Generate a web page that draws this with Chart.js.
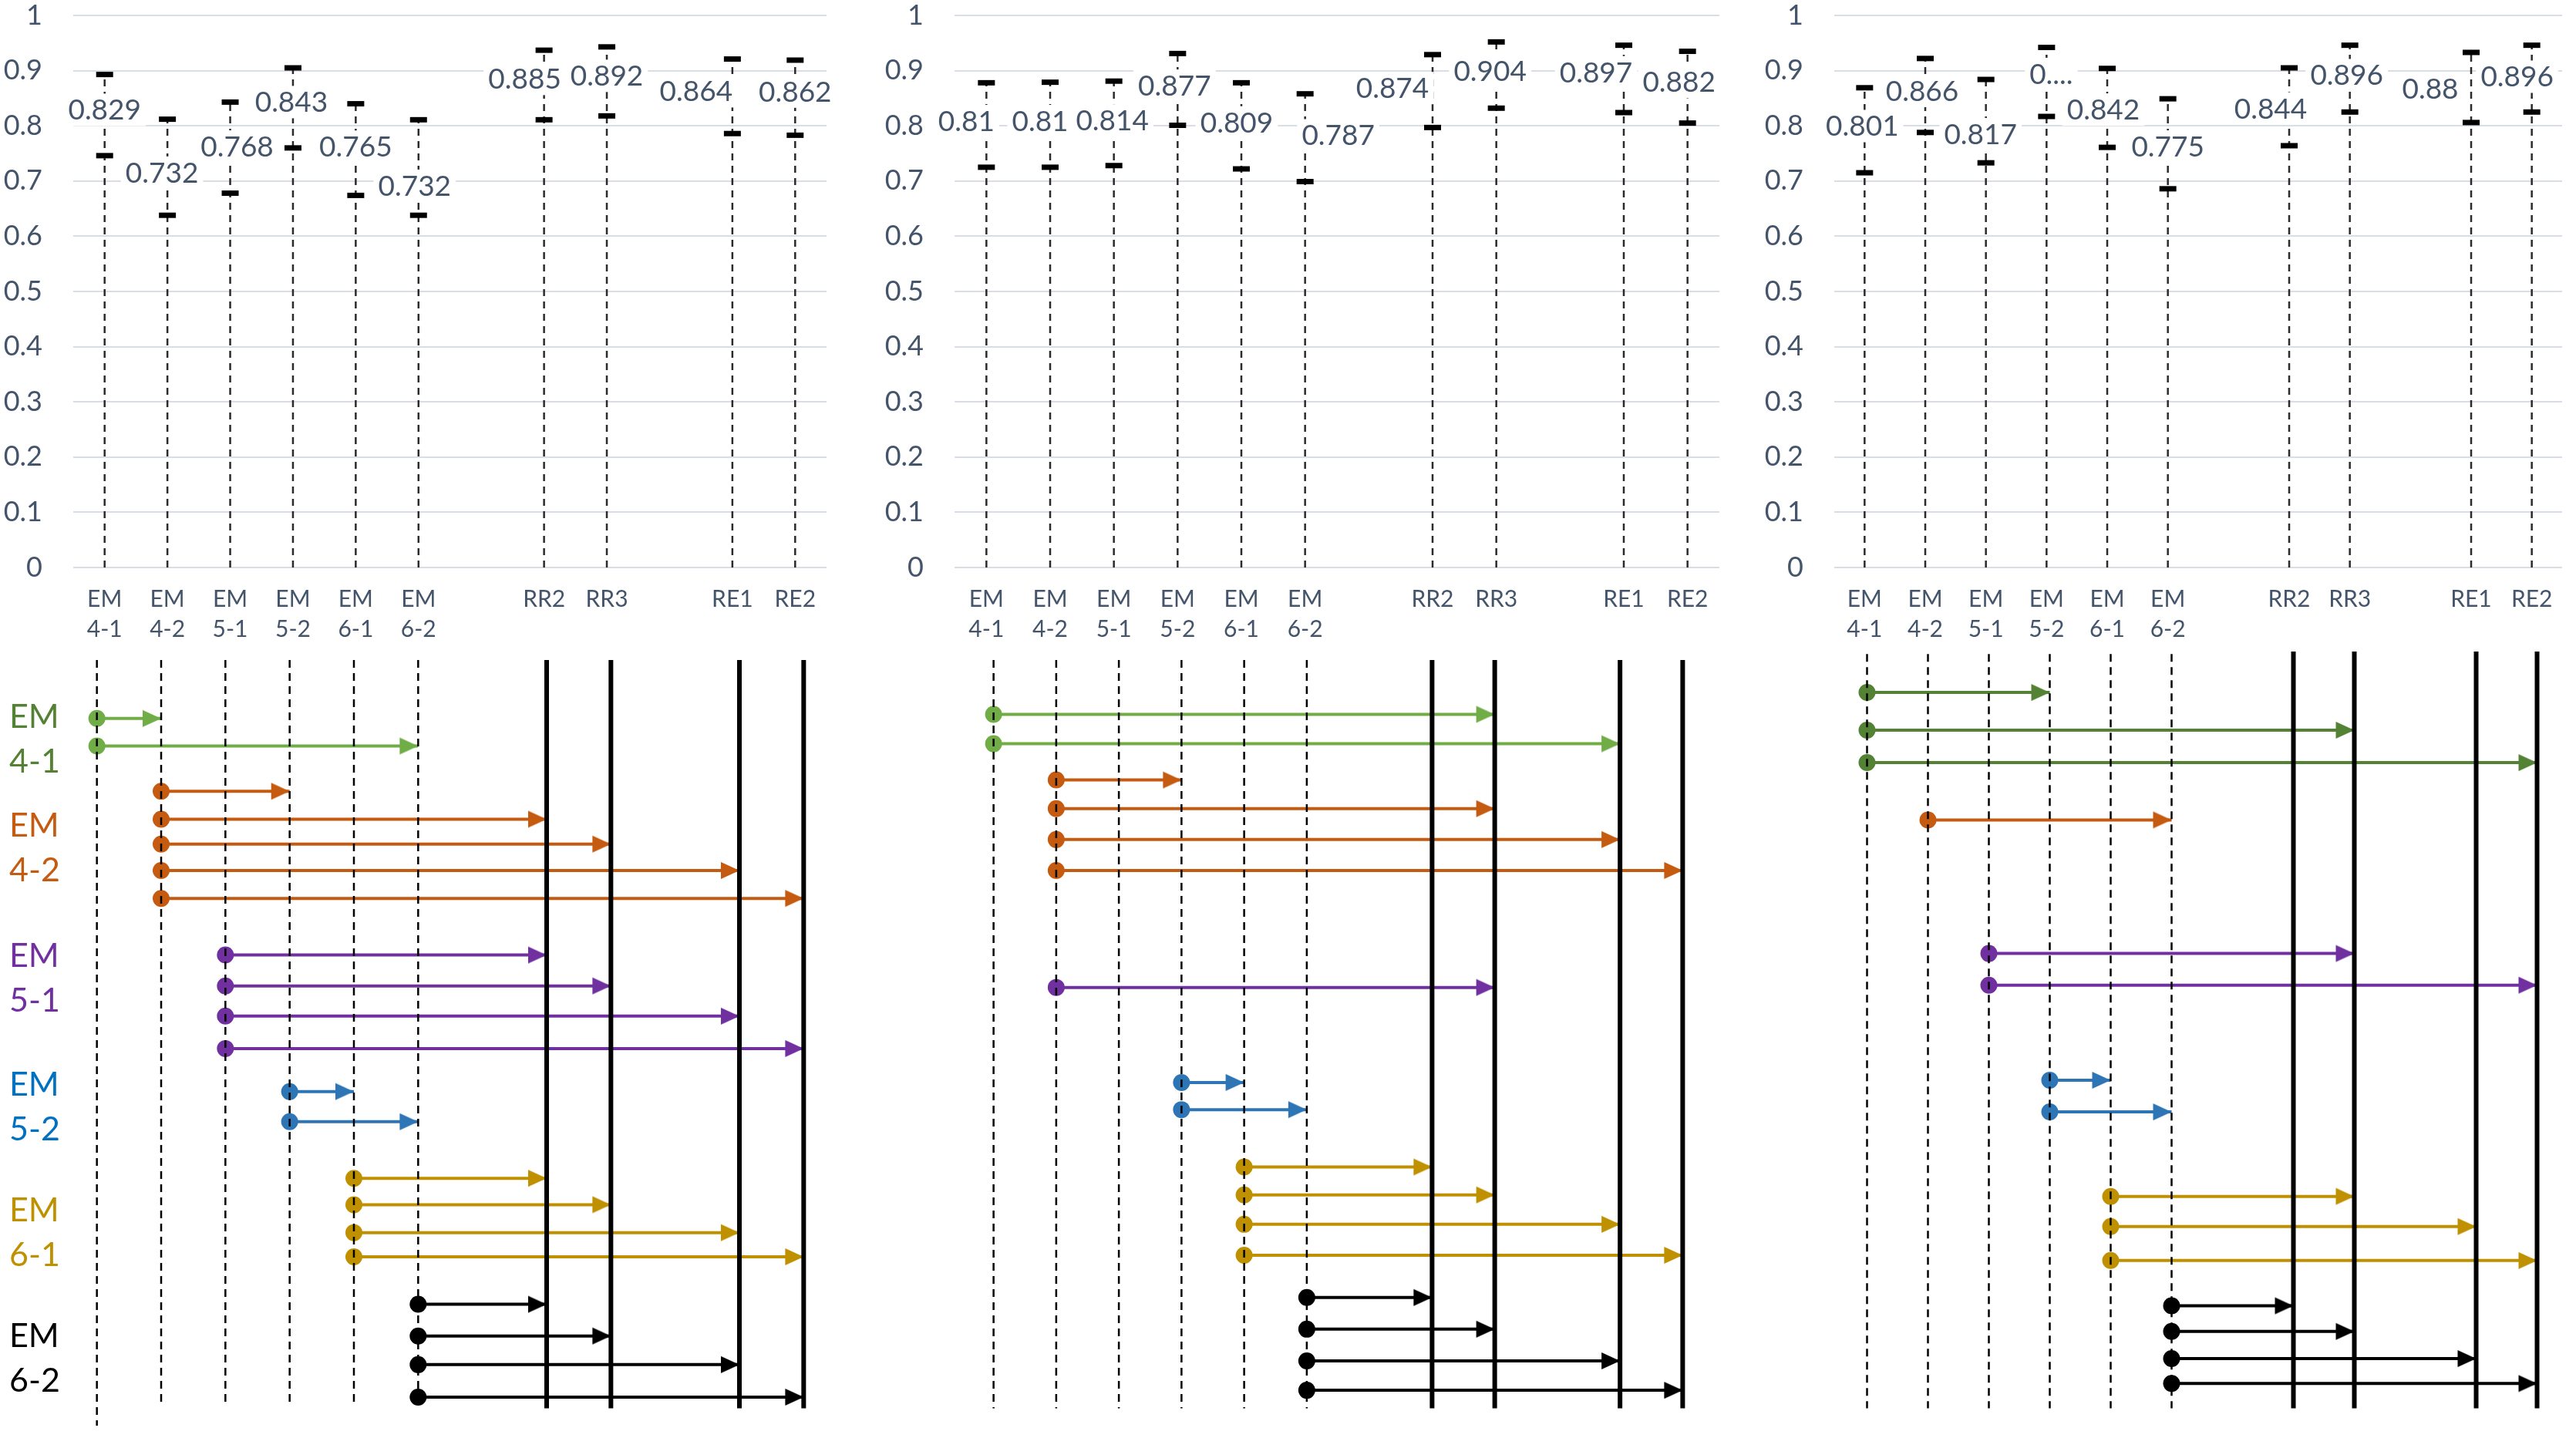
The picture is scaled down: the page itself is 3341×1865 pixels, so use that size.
<!DOCTYPE html>
<html><head><meta charset="utf-8">
<script src="https://cdn.jsdelivr.net/npm/chart.js@4.4.1/dist/chart.umd.min.js"></script>
<style>
html,body{margin:0;padding:0;background:#fff;}
body{width:3341px;height:1865px;overflow:hidden;position:relative;}
canvas{position:absolute;}
</style></head><body>
<canvas id="t1"></canvas><canvas id="t2"></canvas><canvas id="t3"></canvas>
<canvas id="b1"></canvas><canvas id="b2"></canvas><canvas id="b3"></canvas>
<script>
// ---------------- DATA ----------------
const categories = ['EM 4-1','EM 4-2','EM 5-1','EM 5-2','EM 6-1','EM 6-2','','RR2','RR3','','RE1','RE2'];
const yTickLabels = ['0','0.1','0.2','0.3','0.4','0.5','0.6','0.7','0.8','0.9','1'];

const p1Upper = [0.893,0.812,0.843,0.905,0.840,0.811,null,0.937,0.943,null,0.921,0.919];
const p1Lower = [0.746,0.638,0.678,0.760,0.674,0.638,null,0.811,0.818,null,0.786,0.783];
const p1Mean  = [0.829,0.732,0.768,0.843,0.765,0.732,null,0.885,0.892,null,0.864,0.862];
const p1MeanLabels = ['0.829','0.732','0.768','0.843','0.765','0.732','','0.885','0.892','','0.864','0.862'];

const p2Upper = [0.878,0.879,0.881,0.931,0.878,0.858,null,0.929,0.952,null,0.946,0.935];
const p2Lower = [0.725,0.725,0.728,0.801,0.722,0.699,null,0.797,0.832,null,0.824,0.805];
const p2Mean  = [0.81,0.81,0.814,0.877,0.809,0.787,null,0.874,0.904,null,0.897,0.882];
const p2MeanLabels = ['0.81','0.81','0.814','0.877','0.809','0.787','','0.874','0.904','','0.897','0.882'];

const p3Upper = [0.869,0.922,0.884,0.942,0.904,0.849,null,0.905,0.946,null,0.933,0.946];
const p3Lower = [0.715,0.788,0.733,0.817,0.761,0.686,null,0.764,0.825,null,0.806,0.825];
const p3Mean  = [0.801,0.866,0.817,0.88,0.842,0.775,null,0.844,0.896,null,0.88,0.896];
const p3MeanLabels = ['0.801','0.866','0.817','0....','0.842','0.775','','0.844','0.896','','0.88','0.896'];

// arrows: [from category, to category, row (0 = top of lower diagram), group]
const p1Arrows = [
 [0,1,7.75,'4-1'],[0,5,11.4,'4-1'],
 [1,3,17.4,'4-2'],[1,7,21.1,'4-2'],[1,8,24.4,'4-2'],[1,10,27.9,'4-2'],[1,11,31.6,'4-2'],
 [2,7,39.1,'5-1'],[2,8,43.2,'5-1'],[2,10,47.2,'5-1'],[2,11,51.5,'5-1'],
 [3,4,57.2,'5-2'],[3,5,61.2,'5-2'],
 [4,7,68.7,'6-1'],[4,8,72.2,'6-1'],[4,10,75.9,'6-1'],[4,11,79.1,'6-1'],
 [5,7,85.4,'6-2'],[5,8,89.6,'6-2'],[5,10,93.4,'6-2'],[5,11,97.7,'6-2']
];
const p2Arrows = [
 [0,8,7.2,'4-1'],[0,10,11.1,'4-1'],
 [1,3,15.9,'4-2'],[1,8,19.7,'4-2'],[1,10,23.8,'4-2'],[1,11,27.9,'4-2'],
 [1,8,43.4,'5-1'],
 [3,4,56,'5-2'],[3,5,59.6,'5-2'],
 [4,7,67.2,'6-1'],[4,8,70.9,'6-1'],[4,10,74.8,'6-1'],[4,11,78.9,'6-1'],
 [5,7,84.5,'6-2'],[5,8,88.7,'6-2'],[5,10,92.9,'6-2'],[5,11,96.8,'6-2']
];
const p3Arrows = [
 [0,3,4.3,'4-1'],[0,8,9.3,'4-1'],[0,11,13.6,'4-1'],
 [1,5,21.2,'4-2'],
 [2,8,38.9,'5-1'],[2,11,43.1,'5-1'],
 [3,4,55.7,'5-2'],[3,5,59.9,'5-2'],
 [4,8,71.1,'6-1'],[4,10,75.1,'6-1'],[4,11,79.6,'6-1'],
 [5,7,85.6,'6-2'],[5,8,89,'6-2'],[5,10,92.6,'6-2'],[5,11,95.9,'6-2']
];
const dashedLineCats = [0,1,2,3,4,5];
const solidLineCats = [7,8,10,11];
const p1LineStart = [0,0,0,0,0,0,null,0,0,null,0,0];
const p1LineEnd = [101.5,98.9,98.9,98.9,98.9,98.9,null,99.2,99.2,null,99.2,99.2];
const p2LineStart = [0,0,0,0,0,0,null,0,0,null,0,0];
const p2LineEnd = [99.2,99.2,99.2,99.2,99.2,99.2,null,99.2,99.2,null,99.2,99.2];
const p3LineStart = [-0.8,-0.8,-0.8,-0.8,-0.8,-0.8,null,-1.3,-1.3,null,-2.9,-2.9];
const p3LineEnd = [99.2,99.2,99.2,99.2,99.2,99.2,null,99.2,99.2,null,99.2,99.2];
const groupNames = ['4-1','4-2','5-1','5-2','6-1','6-2'];
const groupLabelRows = [10.5,25,42.2,59.3,76,92.6];

// ---------------- STYLE ----------------
const FONT = 'Lato, "Open Sans", sans-serif';
const TXT = '#44546A';
const GRID = '#D9DEE6';
const arrowColor = {'4-1':'#70AD47','4-2':'#C55A11','5-1':'#7030A0','5-2':'#2E75B6','6-1':'#BF9000','6-2':'#000000'};
const arrowColorP3 = Object.assign({}, arrowColor, {'4-1':'#548235'});
const labelColor = {'4-1':'#548235','4-2':'#C55A11','5-1':'#7030A0','5-2':'#0070C0','6-1':'#BF9000','6-2':'#000000'};

const topPanels = [
 {id:'t1', left:0, width:1090, upper:p1Upper, lower:p1Lower, mean:p1Mean, labels:p1MeanLabels,
  dx:[0,-7,9,-2,0,-5,0,-25,0,0,-47,0], dy:[0,12,4,0,2,29,0,0,1,0,1,0]},
 {id:'t2', left:1143, width:1105, upper:p2Upper, lower:p2Lower, mean:p2Mean, labels:p2MeanLabels,
  dx:[-26,-13,-2,-4,-6,43,0,-52,-8,0,-36,-11], dy:[1,1,3,3,2,3,0,4,3,0,0,2]},
 {id:'t3', left:2284, width:1057, upper:p3Upper, lower:p3Lower, mean:p3Mean, labels:p3MeanLabels,
  dx:[-3,-4,-7,6,-5,0,0,-24,-4,0,-53,-19], dy:[1,2,23,-10,9,9,0,9,3,0,9,5]}
];
const bottomPanels = [
 {id:'b1', left:0, width:1095, padLeft:84, arrows:p1Arrows, colors:arrowColor, lineStart:p1LineStart, lineEnd:p1LineEnd, showGroups:true},
 {id:'b2', left:1237, width:997, padLeft:0, arrows:p2Arrows, colors:arrowColor, lineStart:p2LineStart, lineEnd:p2LineEnd, showGroups:false},
 {id:'b3', left:2371, width:970, padLeft:0, arrows:p3Arrows, colors:arrowColorP3, lineStart:p3LineStart, lineEnd:p3LineEnd, showGroups:false}
];

// ---------------- PLUGINS ----------------
const meanLabelPlugin = {
  id:'meanLabels',
  afterDatasetsDraw(chart, args, o){
    const {ctx} = chart, x = chart.scales.x, y = chart.scales.y;
    ctx.save();
    ctx.font = '37px ' + FONT;
    ctx.textAlign = 'center'; ctx.textBaseline = 'middle';
    o.values.forEach((v,i)=>{
      if (v == null) return;
      const px = x.getPixelForValue(i) + o.dx[i], py = y.getPixelForValue(v) + o.dy[i];
      const t = o.labels[i], w = ctx.measureText(t).width;
      ctx.fillStyle = '#fff';
      ctx.fillRect(px - w/2 - 6, py - 21, w + 12, 42);
      ctx.fillStyle = TXT;
      ctx.fillText(t, px, py + 1);
    });
    ctx.restore();
  }
};
const groupLabelPlugin = {
  id:'groupLabels',
  afterDatasetsDraw(chart, args, o){
    if (!o.show) return;
    const {ctx} = chart, y = chart.scales.y;
    ctx.save();
    ctx.font = '43px ' + FONT;
    ctx.textAlign = 'left'; ctx.textBaseline = 'middle';
    groupNames.forEach((g,i)=>{
      const py = y.getPixelForValue(groupLabelRows[i]);
      ctx.fillStyle = labelColor[g];
      ctx.fillText('EM', 12, py - 29);
      ctx.fillText(g, 12, py + 29);
    });
    ctx.restore();
  }
};

function arrowHead(color){
  const c = document.createElement('canvas');
  c.width = 50; c.height = 24;
  const g = c.getContext('2d');
  g.fillStyle = color;
  g.beginPath(); g.moveTo(1,1); g.lineTo(25,12); g.lineTo(1,23); g.closePath(); g.fill();
  return c;
}

function baseOpts(){
  return {responsive:false, animation:false, events:[], plugins:{legend:{display:false}, tooltip:{enabled:false}}};
}

// ---------------- TOP CHARTS ----------------
topPanels.forEach(p=>{
  const cv = document.getElementById(p.id);
  cv.width = p.width; cv.height = 840;
  cv.style.left = p.left + 'px'; cv.style.top = '0px';
  const stems = [], ups = [], lows = [];
  categories.forEach((c,i)=>{
    if (p.upper[i] == null) return;
    stems.push({x:i,y:0},{x:i,y:p.upper[i]},{x:i,y:null});
    ups.push({x:i,y:p.upper[i]});
    lows.push({x:i,y:p.lower[i]});
  });
  const opts = baseOpts();
  opts.layout = {padding:{top:19,left:0,right:0,bottom:0}};
  opts.plugins.meanLabels = {values:p.mean, labels:p.labels, dx:p.dx, dy:p.dy};
  opts.scales = {
    x:{type:'linear', min:-0.5, max:11.5, grid:{display:false, drawTicks:false}, border:{display:false},
       afterBuildTicks:s=>{ s.ticks = categories.map((c,i)=>({value:i})); },
       afterFit:s=>{ s.height = 104; },
       ticks:{autoSkip:false, maxRotation:0, minRotation:0, padding:22, color:TXT,
              font:{family:FONT, size:30, lineHeight:1.3},
              callback:v=>{ const c = categories[v]; return c ? c.split(' ') : ''; }}},
    y:{min:0, max:1, afterFit:s=>{ s.width = 95; },
       grid:{color:GRID, lineWidth:2, drawTicks:true, tickLength:38, tickColor:'rgba(0,0,0,0)'}, border:{display:false},
       ticks:{stepSize:0.1, padding:2, color:TXT, font:{family:FONT, size:36, lineHeight:1},
              callback:v=>yTickLabels[Math.round(v*10)]}}
  };
  new Chart(cv, {
    type:'line',
    data:{datasets:[
      {data:ups, showLine:false, pointStyle:'line', pointRadius:11, pointBorderWidth:7, pointBorderColor:'#000', pointBackgroundColor:'#000', order:0},
      {data:lows, showLine:false, pointStyle:'line', pointRadius:11, pointBorderWidth:7, pointBorderColor:'#000', pointBackgroundColor:'#000', order:1},
      {data:stems, borderColor:'#2b2b2b', borderWidth:2.5, borderDash:[9,7], pointRadius:0, spanGaps:false, order:2}
    ]},
    options:opts,
    plugins:[meanLabelPlugin]
  });
});

// ---------------- BOTTOM CHARTS ----------------
bottomPanels.forEach(p=>{
  const cv = document.getElementById(p.id);
  cv.width = p.width; cv.height = 1020;
  cv.style.left = p.left + 'px'; cv.style.top = '845px';
  const heads = {};
  Object.keys(p.colors).forEach(k=>heads[k] = arrowHead(p.colors[k]));
  const ds = [];
  dashedLineCats.forEach(i=>ds.push({data:[{x:i,y:p.lineStart[i]},{x:i,y:p.lineEnd[i]}], borderColor:'#000', borderWidth:2.5, borderDash:[10,7], pointRadius:0, clip:false, order:0}));
  solidLineCats.forEach(i=>ds.push({data:[{x:i,y:p.lineStart[i]},{x:i,y:p.lineEnd[i]}], borderColor:'#000', borderWidth:6, pointRadius:0, clip:false, order:0}));
  p.arrows.forEach(a=>{
    const col = p.colors[a[3]];
    ds.push({data:[{x:a[0],y:a[2]},{x:a[1],y:a[2]}], borderColor:col, borderWidth:4,
      pointStyle:['circle', heads[a[3]]], pointRadius:[11,1], pointBackgroundColor:col, pointBorderColor:col,
      pointBorderWidth:0, clip:false, order:1});
  });
  const opts = baseOpts();
  opts.layout = {padding:{left:p.padLeft, right:0, top:0, bottom:0}};
  opts.plugins.groupLabels = {show:p.showGroups};
  opts.scales = {
    x:{type:'linear', min:-0.5, max:11.5, display:false},
    y:{min:0, max:102, reverse:true, display:false}
  };
  new Chart(cv, {type:'line', data:{datasets:ds}, options:opts, plugins:[groupLabelPlugin]});
});
</script>
</body></html>
